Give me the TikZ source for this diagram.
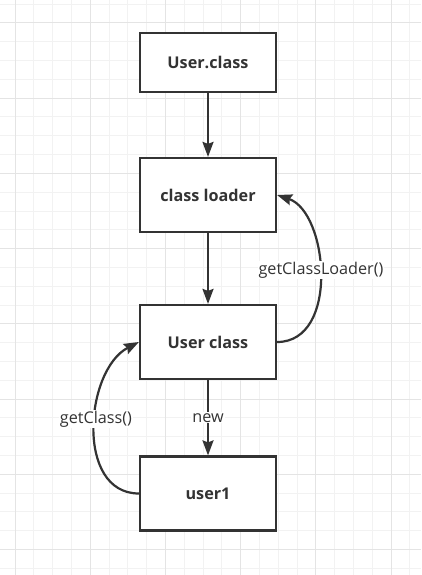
\documentclass[tikz,border=0pt]{standalone}
\usepackage{fontspec}
\setmainfont{Open Sans}
\usetikzlibrary{arrows.meta}
\definecolor{ink}{HTML}{333333}
\definecolor{gridminor}{HTML}{F2F2F2}
\definecolor{gridmajor}{HTML}{E4E4E4}
\tikzset{
  box/.style={draw=ink, line width=2.2pt, fill=white, minimum width=136pt, inner sep=0pt,
    font=\fontsize{16.2}{19}\selectfont\bfseries, text=ink},
  conn/.style={draw=ink, line width=2.2pt, -{Stealth[length=15pt,width=11pt,inset=2pt]}},
  lbl/.style={fill=white, inner sep=1pt, font=\fontsize{16.2}{19}\selectfont, text=ink}
}
\begin{document}
\begin{tikzpicture}[x=1pt,y=-1pt]
\useasboundingbox (0,0) rectangle (421,575);
\fill[white] (0,0) rectangle (421,575);
% grid
\foreach \i in {0,...,22} {
  \draw[gridminor, line width=1pt] ({15+18.8*\i},0) -- ({15+18.8*\i},575);
}
\foreach \i in {0,...,30} {
  \draw[gridminor, line width=1pt] (0,{4.2+18.8*\i}) -- (421,{4.2+18.8*\i});
}
\foreach \i in {0,...,5} {
  \draw[gridmajor, line width=1pt] ({15+75.2*\i},0) -- ({15+75.2*\i},575);
}
\foreach \i in {0,...,7} {
  \draw[gridmajor, line width=1pt] (0,{23+75.2*\i}) -- (421,{23+75.2*\i});
}
% nodes
\node[box, minimum height=59pt] (uclassfile) at (208,62.5) {User.class};
\node[box, minimum height=74pt] (cl) at (208,195) {class loader};
\node[box, minimum height=74pt] (uc) at (208,342) {User class};
\node[box, minimum height=74pt] (u1) at (208,493.5) {user1};
% connectors
\draw[conn] (uclassfile) -- (cl);
\draw[conn] (cl) -- (uc);
\draw[conn] (uc) -- node[lbl] {new} (u1);
\draw[conn] (uc.east) .. controls (340,342) and (328,212) .. (cl.east);
\draw[conn] (u1.west) .. controls (75,493.5) and (85,370) .. (uc.west);
\node[lbl] (lgcl) at (321,270) {getClassLoader()};
\node[lbl] (lgc) at (96,419) {getClass()};
\end{tikzpicture}
\end{document}
